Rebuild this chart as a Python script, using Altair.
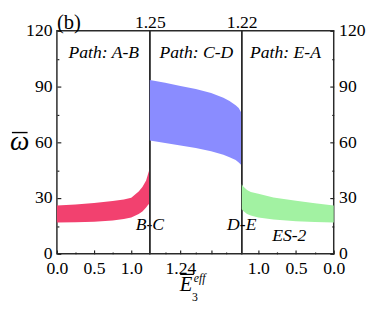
import altair as alt
import pandas as pd

FONT = "Liberation Serif"

# Path A-B (pink band)
e_ab = [0.0, 0.25, 0.5, 0.75, 0.9, 1.0, 1.1, 1.15, 1.2, 1.23, 1.25]
lo_ab = [16.8, 17.0, 17.3, 18.0, 18.8, 19.5, 21.5, 22.8, 25.0, 26.5, 27.0]
hi_ab = [26.0, 26.5, 27.3, 28.5, 29.3, 30.2, 33.5, 36.0, 39.5, 43.5, 46.0]

# Path C-D (blue band)
e_cd = [1.25, 1.245, 1.24, 1.235, 1.23, 1.226, 1.224, 1.222, 1.221, 1.22]
lo_cd = [61.0, 59.7, 58.3, 57.0, 55.2, 53.3, 52.0, 50.5, 49.2, 47.5]
hi_cd = [93.5, 92.0, 90.3, 88.7, 86.5, 84.0, 82.3, 80.0, 78.5, 75.5]

# Path E-A (green band)
e_ea = [1.22, 1.2, 1.15, 1.1, 1.0, 0.8, 0.5, 0.25, 0.0]
lo_ea = [24.0, 23.0, 21.5, 20.6, 19.6, 18.5, 17.6, 17.1, 16.8]
hi_ea = [37.5, 36.2, 34.4, 33.3, 32.3, 30.3, 28.6, 27.2, 26.0]

# annotations
ann_ab = {"x": [0.63, 1.25], "y": [108, 15.5], "t": ["Path: A-B", "B-C"]}
ann_cd = {"x": [1.2348], "y": [108], "t": ["Path: C-D"]}
ann_ea = {"x": [0.64, 1.22, 0.59], "y": [108, 15.5, 9.5], "t": ["Path: E-A", "D-E", "ES-2"]}

y_major = [0, 30, 60, 90, 120]
y_minor = [15, 45, 75, 105]

H = 228
TICK = "#222"
one = pd.DataFrame({"a": [0]})


def tick_axis(orient, values, size):
    return alt.Axis(orient=orient, values=values, tickSize=size, offset=-size,
                    labels=False, domain=False, grid=False, title="",
                    tickColor=TICK, tickWidth=1.2)


def label_axis(orient, values, fmt, **kw):
    return alt.Axis(orient=orient, values=values, format=fmt, ticks=False,
                    domain=False, grid=False, labelFont=FONT, labelFontSize=18,
                    labelColor="black", labelFlush=False, labelOverlap=False,
                    **kw)


def note(text, x, y, size, italic=True, align="center", baseline="alphabetic"):
    kw = dict(text=text, font=FONT, fontSize=size, color="black", align=align,
              baseline=baseline)
    if italic:
        kw["fontStyle"] = "italic"
    return alt.Chart(one).mark_text(**kw).encode(x=alt.value(x), y=alt.value(y))


def hbar(x1, x2, y, w):
    return alt.Chart(one).mark_rule(color="black", strokeWidth=w).encode(
        x=alt.value(x1), x2=alt.value(x2), y=alt.value(y))


def panel(e, lo, hi, color, xdomain, xlab, fmt, xmaj, xmin, yside, ann, w, extra=None):
    df = pd.DataFrame({"e": e, "lo": lo, "hi": hi})
    xs = alt.Scale(domain=xdomain, nice=False, zero=False)
    ys = alt.Scale(domain=[0, 120], nice=False, zero=False)
    if yside in ("left", "right"):
        ylab = label_axis(yside, y_major, "d", labelPadding=5, title="")
    else:
        ylab = None
    xlab_ax = label_axis("bottom", xlab, fmt, labelPadding=6, title="")
    area = alt.Chart(df).mark_area(color=color, opacity=1).encode(
        x=alt.X("e:Q", scale=xs, axis=xlab_ax),
        y=alt.Y("lo:Q", scale=ys, axis=ylab),
        y2="hi:Q",
    )
    ymaj = tick_axis(yside, y_major, 4) if yside in ("left", "right") else None
    ymin = tick_axis(yside, y_minor, 2) if yside in ("left", "right") else None
    t1 = alt.Chart(df).mark_point(opacity=0).encode(
        x=alt.X("e:Q", scale=xs, axis=tick_axis("bottom", xmaj, 4)),
        y=alt.Y("lo:Q", scale=ys, axis=ymaj),
    )
    t2 = alt.Chart(df).mark_point(opacity=0).encode(
        x=alt.X("e:Q", scale=xs, axis=tick_axis("bottom", xmin, 2)),
        y=alt.Y("lo:Q", scale=ys, axis=ymin),
    )
    txt = alt.Chart(pd.DataFrame(ann)).mark_text(
        font=FONT, fontSize=18, fontStyle="italic", color="black",
        align="center", baseline="middle").encode(
        x=alt.X("x:Q", scale=xs, axis=None),
        y=alt.Y("y:Q", scale=ys, axis=None),
        text="t:N",
    )
    layers = [area, t1, t2, txt]
    if extra is not None:
        layers += extra(df, xs, ys)
    return alt.layer(*layers).resolve_axis(x="independent", y="independent").properties(
        width=w, height=H)


def left_extra(df, xs, ys):
    omega = note("ω", -38, H / 2 + 8, 28)
    bar = hbar(-46, -30, H / 2 - 10, 1.4)
    tag = note("(b)", 0, -2, 21, italic=False, align="left")
    return [omega, bar, tag]


def mid_extra(df, xs, ys):
    top = alt.Chart(df).mark_point(opacity=0).encode(
        x=alt.X("e:Q", scale=xs,
                axis=label_axis("top", [1.25, 1.22], ".2f", labelPadding=-1, title="")),
        y=alt.Y("lo:Q", scale=ys, axis=None),
    )
    e_main = note("E", 37, H + 38, 21)
    e_bar = hbar(31, 45, H + 21, 1.2)
    e_sub = note("3", 46, H + 48, 12, italic=False)
    e_sup = note("eff", 45, H + 29, 12, align="left")
    return [top, e_main, e_bar, e_sub, e_sup]


p1 = panel(e_ab, lo_ab, hi_ab, "#F2416F", [0, 1.25], [0.0, 0.5, 1.0], ".1f",
           [0.0, 0.5, 1.0], [0.25, 0.75], "left", ann_ab, 95, extra=left_extra)
p2 = panel(e_cd, lo_cd, hi_cd, "#8A8CFF", [1.25, 1.22], [1.24], ".2f",
           [1.24, 1.23], [1.245, 1.235, 1.225], "none", ann_cd, 94, extra=mid_extra)
p3 = panel(e_ea, lo_ea, hi_ea, "#A2F2A2", [1.22, 0.0], [1.0, 0.5, 0.0], ".1f",
           [1.0, 0.5, 0.0], [0.75, 0.25], "right", ann_ea, 94)

chart = alt.hconcat(p1, p2, p3, spacing=0, bounds="flush").properties(
    padding={"left": 1, "top": 0, "right": 0, "bottom": 0},
).configure_view(stroke="#2a2a2a", strokeWidth=1.5)

chart.save("out.html", embed_options={"renderer": "svg", "actions": False})
